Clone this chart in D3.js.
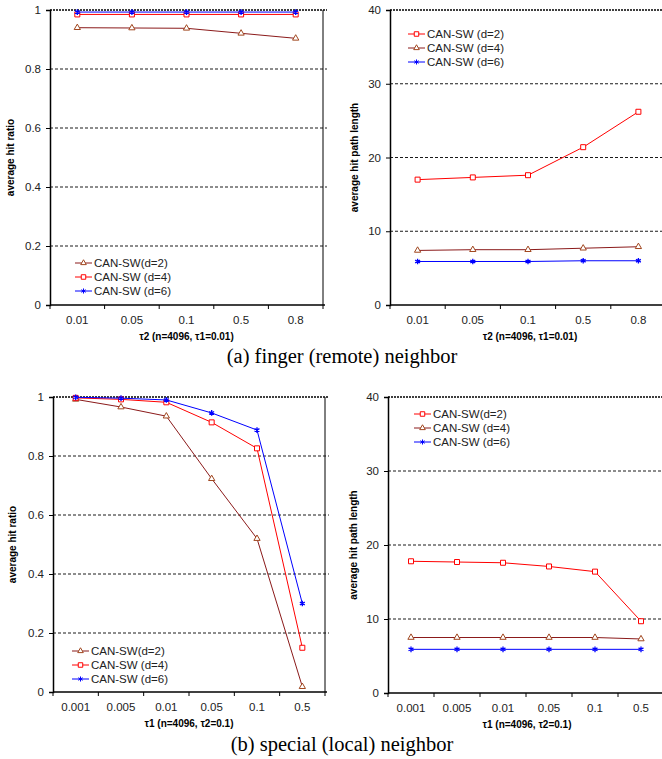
<!DOCTYPE html>
<html>
<head>
<meta charset="utf-8">
<script src="https://cdn.jsdelivr.net/npm/d3@7"></script>
<style>
  body { margin: 0; background: #fff; }
  svg { display: block; }
</style>
</head>
<body>
<svg width="662" height="759"></svg>
<script>
// categories
const tau2Cats = ["0.01", "0.05", "0.1", "0.5", "0.8"];
const tau1Cats = ["0.001", "0.005", "0.01", "0.05", "0.1", "0.5"];

// (a) hit ratio vs tau2
const aRatioD2 = [0.940, 0.939, 0.938, 0.921, 0.904];
const aRatioD4 = [0.985, 0.985, 0.985, 0.985, 0.985];
const aRatioD6 = [0.993, 0.993, 0.993, 0.993, 0.993];

// (a) hit path length vs tau2
const aPathD2 = [17.0, 17.3, 17.6, 21.4, 26.2];
const aPathD4 = [7.4, 7.5, 7.5, 7.7, 7.9];
const aPathD6 = [5.9, 5.9, 5.9, 6.0, 6.0];

// (b) hit ratio vs tau1
const bRatioD2 = [0.992, 0.966, 0.935, 0.723, 0.520, 0.018];
const bRatioD4 = [0.997, 0.992, 0.982, 0.914, 0.826, 0.150];
const bRatioD6 = [0.999, 0.996, 0.990, 0.946, 0.888, 0.300];

// (b) hit path length vs tau1
const bPathD2 = [17.8, 17.7, 17.6, 17.1, 16.4, 9.7];
const bPathD4 = [7.5, 7.5, 7.5, 7.5, 7.5, 7.3];
const bPathD6 = [5.9, 5.9, 5.9, 5.9, 5.9, 5.9];

const ratioTicks = [0, 0.2, 0.4, 0.6, 0.8, 1];
const pathTicks = [0, 10, 20, 30, 40];

const BROWN = "#8b1a1a", BROWN_MK = "#a0461e", RED = "#ff0000", BLUE = "#0000ff";
const sty = {
  tri: { line: BROWN, mark: BROWN_MK, sym: d3.symbolTriangle, size: 17 },
  sq:  { line: RED,   mark: RED,      sym: d3.symbolSquare,   size: 25 },
  ast: { line: BLUE,  mark: BLUE,     sym: d3.symbolAsterisk, size: 22 }
};

const svg = d3.select("svg");
const sans = "'Liberation Sans', Arial, sans-serif";

const panel = (cfg) => {
  const g = svg.append("g");
  const x = d3.scaleBand().domain(cfg.cats).range([cfg.x0, cfg.x1]).padding(0);
  const y = d3.scaleLinear().domain([0, cfg.ymax]).range([cfg.y1, cfg.y0]);

  // gridlines
  g.append("g").selectAll("line")
    .data(cfg.ticks.filter(t => t > 0))
    .join("line")
      .attr("x1", cfg.x0).attr("x2", cfg.x1 + 4)
      .attr("y1", d => y(d)).attr("y2", d => y(d))
      .attr("stroke", "#000")
      .attr("stroke-width", d => d === cfg.ymax ? 1.6 : 0.9)
      .attr("stroke-dasharray", d => d === cfg.ymax ? "2,1" : "3,2");

  if (cfg.box) {
    g.append("line")
      .attr("x1", cfg.x1).attr("x2", cfg.x1)
      .attr("y1", cfg.y0).attr("y2", cfg.y1)
      .attr("stroke", "#000").attr("stroke-width", 1);
  }

  // y axis
  const ya = g.append("g")
    .attr("transform", `translate(${cfg.x0},0)`)
    .call(d3.axisLeft(y).tickValues(cfg.ticks).tickSize(4).tickPadding(5)
      .tickFormat(d3.format("~g")));
  ya.select(".domain").attr("stroke-width", 1.5);
  ya.selectAll("text").attr("font-family", sans).attr("font-size", 11.5).attr("fill", "#222");

  // x axis: ticks on band boundaries, labels at band centres
  const xa = g.append("g").attr("transform", `translate(0,${cfg.y1})`);
  xa.append("line")
    .attr("x1", cfg.x0).attr("x2", cfg.x1 + 2)
    .attr("stroke", "#000").attr("stroke-width", 1.5);
  xa.selectAll("line.tk")
    .data(cfg.cats.map(c => x(c)).concat([cfg.x1]))
    .join("line").attr("class", "tk")
      .attr("x1", d => d).attr("x2", d => d)
      .attr("y1", 0).attr("y2", 4)
      .attr("stroke", "#000");
  xa.selectAll("text")
    .data(cfg.cats)
    .join("text")
      .attr("x", d => x(d) + x.bandwidth() / 2)
      .attr("y", 19)
      .attr("text-anchor", "middle")
      .attr("font-family", sans).attr("font-size", 11.5).attr("fill", "#222")
      .text(d => d);

  g.append("text")
    .attr("x", (cfg.x0 + Math.min(cfg.x1, 662)) / 2 + cfg.xtDx)
    .attr("y", cfg.y1 + 35)
    .attr("text-anchor", "middle")
    .attr("font-family", sans).attr("font-size", 10).attr("font-weight", "bold")
    .text(cfg.xtitle);

  g.append("text")
    .attr("transform", `translate(${cfg.ytX},${(cfg.y0 + cfg.y1) / 2}) rotate(-90)`)
    .attr("text-anchor", "middle")
    .attr("font-family", sans).attr("font-size", 10).attr("font-weight", "bold")
    .text(cfg.ytitle);

  // series
  const line = d3.line().x((d, i) => x(cfg.cats[i]) + x.bandwidth() / 2).y(d => y(d));
  cfg.series.forEach(s => {
    const st = sty[s.mk];
    g.append("path").datum(s.values)
      .attr("d", line)
      .attr("fill", "none").attr("stroke", st.line).attr("stroke-width", 1);
    g.append("g").selectAll("path")
      .data(s.values)
      .join("path")
        .attr("transform", (d, i) => `translate(${x(cfg.cats[i]) + x.bandwidth() / 2},${y(d)})`)
        .attr("d", d3.symbol(st.sym, st.size))
        .attr("fill", s.mk === "ast" ? st.mark : "#fff")
        .attr("stroke", st.mark).attr("stroke-width", s.mk === "ast" ? 1.3 : 1);
  });

  // legend
  const lg = g.append("g").attr("transform", `translate(${cfg.lx},${cfg.ly})`);
  cfg.series.slice().sort((a, b) => a.order - b.order).forEach((s, i) => {
    const st = sty[s.mk];
    const row = lg.append("g").attr("transform", `translate(0,${i * 14})`);
    row.append("line").attr("x1", 0).attr("x2", 17)
      .attr("stroke", st.line).attr("stroke-width", 1);
    row.append("path")
      .attr("transform", "translate(8.5,0)")
      .attr("d", d3.symbol(st.sym, st.size * 0.8))
      .attr("fill", s.mk === "ast" ? st.mark : "#fff")
      .attr("stroke", st.mark);
    row.append("text")
      .attr("x", 19).attr("dy", "0.35em")
      .attr("font-family", sans).attr("font-size", 11.5).attr("fill", "#222")
      .text(s.name);
  });
};

panel({
  cats: tau2Cats, x0: 50, x1: 323, y0: 10, y1: 305, ymax: 1, ticks: ratioTicks, box: true,
  xtitle: "τ2 (n=4096, τ1=0.01)", xtDx: 0, ytitle: "average hit ratio", ytX: 14,
  lx: 75, ly: 263,
  series: [
    { name: "CAN-SW(d=2)", values: aRatioD2, mk: "tri", order: 0 },
    { name: "CAN-SW (d=4)", values: aRatioD4, mk: "sq", order: 1 },
    { name: "CAN-SW (d=6)", values: aRatioD6, mk: "ast", order: 2 }
  ]
});

panel({
  cats: tau2Cats, x0: 390, x1: 666, y0: 10, y1: 305, ymax: 40, ticks: pathTicks, box: false,
  xtitle: "τ2 (n=4096, τ1=0.01)", xtDx: 4, ytitle: "average hit path length", ytX: 358,
  lx: 408, ly: 34,
  series: [
    { name: "CAN-SW (d=4)", values: aPathD4, mk: "tri", order: 1 },
    { name: "CAN-SW (d=6)", values: aPathD6, mk: "ast", order: 2 },
    { name: "CAN-SW (d=2)", values: aPathD2, mk: "sq", order: 0 }
  ]
});

panel({
  cats: tau1Cats, x0: 53, x1: 325, y0: 397, y1: 692, ymax: 1, ticks: ratioTicks, box: true,
  xtitle: "τ1 (n=4096, τ2=0.1)", xtDx: 0, ytitle: "average hit ratio", ytX: 16,
  lx: 72, ly: 651,
  series: [
    { name: "CAN-SW(d=2)", values: bRatioD2, mk: "tri", order: 0 },
    { name: "CAN-SW (d=4)", values: bRatioD4, mk: "sq", order: 1 },
    { name: "CAN-SW (d=6)", values: bRatioD6, mk: "ast", order: 2 }
  ]
});

panel({
  cats: tau1Cats, x0: 388, x1: 664, y0: 397, y1: 693, ymax: 40, ticks: pathTicks, box: false,
  xtitle: "τ1 (n=4096, τ2=0.1)", xtDx: 2, ytitle: "average hit path length", ytX: 357,
  lx: 414, ly: 414,
  series: [
    { name: "CAN-SW (d=4)", values: bPathD4, mk: "tri", order: 1 },
    { name: "CAN-SW (d=6)", values: bPathD6, mk: "ast", order: 2 },
    { name: "CAN-SW(d=2)", values: bPathD2, mk: "sq", order: 0 }
  ]
});

// captions
const serif = "'Liberation Serif', 'Times New Roman', serif";
svg.append("text").attr("x", 342).attr("y", 363).attr("text-anchor", "middle")
  .attr("font-family", serif).attr("font-size", 20.5).text("(a) finger (remote) neighbor");
svg.append("text").attr("x", 342).attr("y", 751).attr("text-anchor", "middle")
  .attr("font-family", serif).attr("font-size", 20.5).text("(b) special (local) neighbor");
</script>
</body>
</html>
